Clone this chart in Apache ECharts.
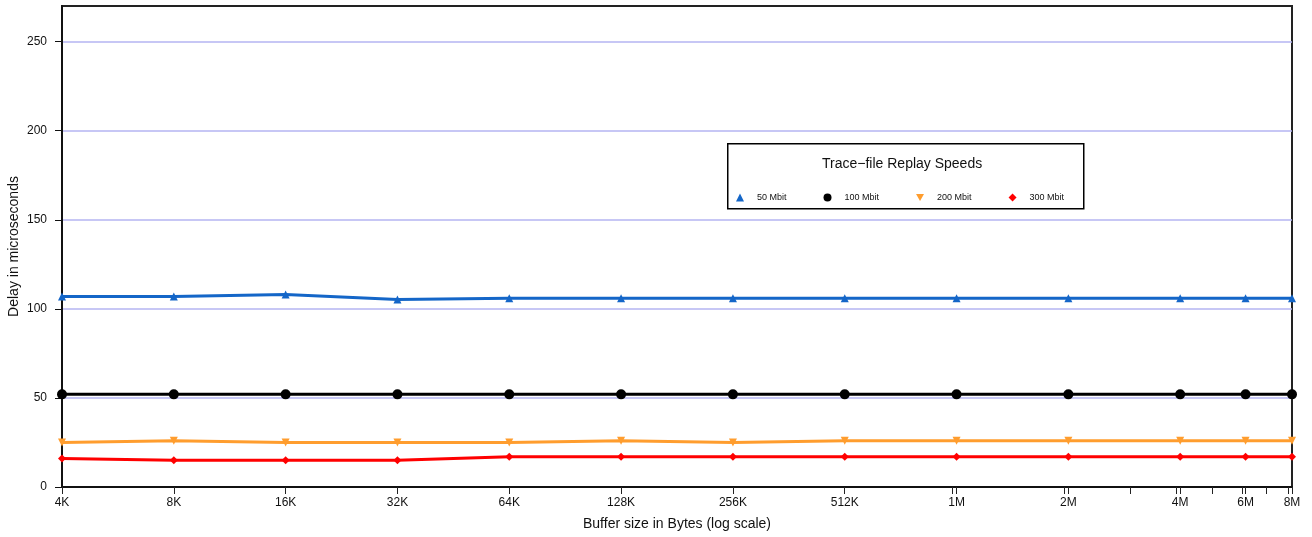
<!DOCTYPE html>
<html>
<head>
<meta charset="utf-8">
<script src="https://cdn.jsdelivr.net/npm/echarts@6/dist/echarts.min.js"></script>
<style>
html,body{margin:0;padding:0;background:#fff;}
#chart{width:1312px;height:537px;}
</style>
</head>
<body>
<div id="chart"></div>
<script>
// Buffer sizes in bytes (x, log scale)
var sizes = [4096, 8192, 16384, 32768, 65536, 131072, 262144, 524288, 1048576, 2097152, 4194304, 6291456, 8388608];
var sizeLabels = ['4K', '8K', '16K', '32K', '64K', '128K', '256K', '512K', '1M', '2M', '4M', '6M', '8M'];
// extra (decimal thousand-K) tick marks, in KB
var extraTickKB = [1000, 2000, 3000, 4000, 5000, 6000, 7000, 8000];
var yTicks = [0, 50, 100, 150, 200, 250];

var seriesNames = ['50 Mbit', '100 Mbit', '200 Mbit', '300 Mbit'];
var delay50  = [107, 107, 108, 105.3, 106, 106, 106, 106, 106, 106, 106, 106, 106];
var delay100 = [52, 52, 52, 52, 52, 52, 52, 52, 52, 52, 52, 52, 52];
var delay200 = [25, 26, 25, 25, 25, 26, 25, 26, 26, 26, 26, 26, 26];
var delay300 = [16, 15, 15, 15, 17, 17, 17, 17, 17, 17, 17, 17, 17];

function pairs(vals) { return sizes.map(function (s, i) { return [s, vals[i]]; }); }
var tickVals = sizes.concat(extraTickKB.map(function (k) { return k * 1024; }));
function fmtX(v) {
  for (var i = 0; i < sizes.length; i++) {
    if (Math.abs(sizes[i] - v) / sizes[i] < 1e-6) return sizeLabels[i];
  }
  return '';
}

var FONT = 'Liberation Sans, Arial, Helvetica, sans-serif';
var downTri = 'path://M0,0L10,0L5,9Z';

var chart = echarts.init(document.getElementById('chart'), null, {renderer: 'canvas'});
chart.setOption({
  animation: false,
  backgroundColor: '#fff',
  textStyle: {fontFamily: FONT},
  grid: {left: 62, right: 20, top: 6, bottom: 50, containLabel: false, outerBoundsMode: 'none',
         show: true, borderColor: '#222', borderWidth: 2, backgroundColor: 'transparent'},
  xAxis: {
    type: 'log', logBase: 2, min: 4096, max: 8388608,
    name: 'Buffer size in Bytes (log scale)', nameLocation: 'middle', nameGap: 30, nameMoveOverlap: false,
    nameTextStyle: {fontSize: 14, color: '#111', fontFamily: FONT},
    axisLine: {lineStyle: {color: '#111', width: 2}},
    axisTick: {show: true, length: 7, lineStyle: {color: '#222', width: 1}, customValues: tickVals},
    axisLabel: {customValues: sizes, formatter: fmtX, fontSize: 12, color: '#111', margin: 10, fontFamily: FONT},
    splitLine: {show: false},
    minorTick: {show: false}
  },
  yAxis: {
    type: 'value', min: 0, max: 270,
    name: 'Delay in microseconds', nameLocation: 'middle', nameGap: 41, nameMoveOverlap: false,
    nameTextStyle: {fontSize: 14, color: '#111', fontFamily: FONT},
    axisLine: {show: true, lineStyle: {color: '#111', width: 2}},
    axisTick: {show: true, length: 7, lineStyle: {color: '#111', width: 1}, customValues: yTicks},
    axisLabel: {customValues: yTicks, fontSize: 12, color: '#111', margin: 15, fontFamily: FONT},
    splitLine: {show: true, lineStyle: {color: '#b4b4f2', width: 1.5}}
  },
  legend: {
    left: 736, top: 193, padding: 0, itemWidth: 8, itemHeight: 8, itemGap: 37,
    textStyle: {fontSize: 9, color: '#111', padding: [0, 0, 0, 8], fontFamily: FONT},
    data: [
      {name: seriesNames[0], icon: 'triangle'},
      {name: seriesNames[1], icon: 'circle'},
      {name: seriesNames[2], icon: downTri},
      {name: seriesNames[3], icon: 'diamond'}
    ]
  },
  graphic: [
    {type: 'rect', left: 727, top: 143, z: 10, shape: {width: 356, height: 65}, style: {fill: 'rgba(255,255,255,0)', stroke: '#000', lineWidth: 1.5}},
    {type: 'text', left: 822, top: 157, z: 11, style: {text: 'Trace\u2212file Replay Speeds', fontSize: 14, fill: '#111', fontFamily: FONT}}
  ],
  series: [
    {name: seriesNames[0], type: 'line', data: pairs(delay50), symbol: 'triangle', symbolSize: 8,
     lineStyle: {color: '#1466c8', width: 3}, itemStyle: {color: '#1466c8'}},
    {name: seriesNames[1], type: 'line', data: pairs(delay100), symbol: 'circle', symbolSize: 10,
     lineStyle: {color: '#000', width: 3}, itemStyle: {color: '#000'}},
    {name: seriesNames[2], type: 'line', data: pairs(delay200), symbol: downTri, symbolSize: 8,
     lineStyle: {color: '#ff9d2e', width: 3}, itemStyle: {color: '#ff9d2e'}},
    {name: seriesNames[3], type: 'line', data: pairs(delay300), symbol: 'diamond', symbolSize: 8,
     lineStyle: {color: '#ff0000', width: 3}, itemStyle: {color: '#ff0000'}}
  ]
});
</script>
</body>
</html>
